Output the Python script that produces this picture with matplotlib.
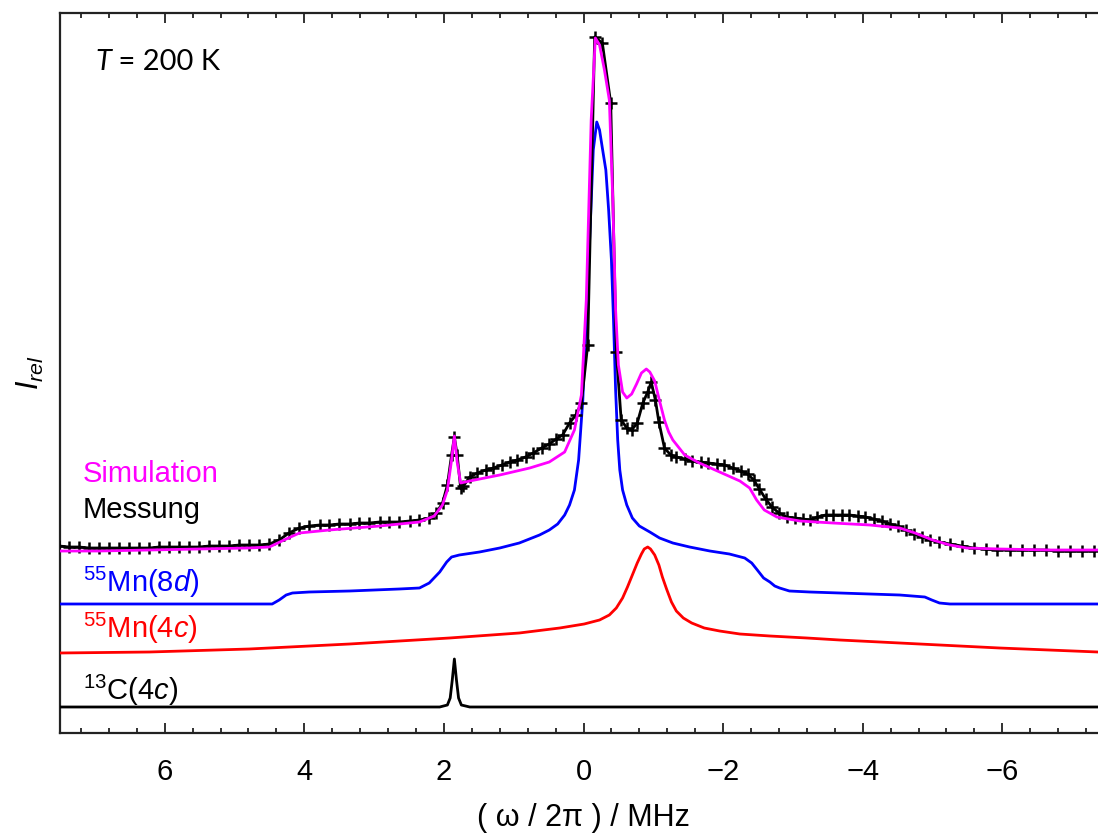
import matplotlib
matplotlib.use("Agg")
import matplotlib.pyplot as plt
import numpy as np
from matplotlib.ticker import MultipleLocator

plt.rcParams['font.family'] = ['Liberation Sans', 'DejaVu Sans']
plt.rcParams['mathtext.fontset'] = 'custom'
plt.rcParams['mathtext.rm'] = 'Liberation Sans'
plt.rcParams['mathtext.it'] = 'Liberation Sans:italic'
plt.rcParams['mathtext.bf'] = 'Liberation Sans:bold'

# ---- spectra: frequency (MHz) and intensity above each trace's baseline ----
meas_f = [7.51, 7.37, 7.23, 7.08, 6.94, 6.80, 6.65, 6.51, 6.37, 6.22, 6.08, 5.94,
          5.79, 5.65, 5.51, 5.36, 5.22, 5.08, 4.93, 4.79, 4.65, 4.50, 4.36, 4.22,
          4.07, 3.93, 3.78, 3.64, 3.50, 3.35, 3.21, 3.07, 2.92, 2.78, 2.64, 2.49,
          2.35, 2.21, 2.11, 2.02, 1.95, 1.89, 1.85, 1.81, 1.76, 1.72, 1.63, 1.52,
          1.40, 1.29, 1.17, 1.06, 0.95, 0.83, 0.72, 0.60, 0.49, 0.39, 0.30, 0.20,
          0.11, 0.03, -0.06, -0.16, -0.27, -0.39, -0.47, -0.54, -0.62, -0.69,
          -0.77, -0.85, -0.92, -0.97, -1.03, -1.08, -1.16, -1.25, -1.33, -1.45,
          -1.56, -1.68, -1.79, -1.91, -2.02, -2.14, -2.25, -2.35, -2.44, -2.52,
          -2.61, -2.70, -2.80, -2.91, -3.03, -3.14, -3.25, -3.35, -3.47, -3.58,
          -3.70, -3.81, -3.93, -4.04, -4.16, -4.27, -4.39, -4.50, -4.62, -4.73,
          -4.85, -4.96, -5.10, -5.25, -5.42, -5.59, -5.76, -5.93, -6.11, -6.28,
          -6.45, -6.62, -6.80, -6.97, -7.14, -7.31]
meas_i = [5, 4, 4, 3, 3, 3, 3, 3, 3, 3, 4, 4,
          4, 4, 4, 5, 5, 5, 6, 6, 6, 7, 11, 18,
          23, 25, 26, 26, 27, 27, 28, 28, 29, 29, 29, 30,
          31, 33, 38, 48, 66, 96, 114, 96, 63, 65, 74, 78,
          81, 83, 86, 89, 91, 94, 98, 103, 107, 112, 116, 128,
          136, 148, 206, 514, 508, 448, 199, 131, 123, 121,
          128, 148, 159, 169, 151, 129, 103, 96, 94, 92,
          90, 89, 88, 87, 86, 83, 80, 77, 71, 62,
          52, 44, 38, 34, 33, 32, 31, 34, 36, 36,
          36, 36, 35, 34, 32, 30, 27, 25, 21, 17,
          14, 11, 9, 7, 5, 3, 2, 1, 1, 1,
          1, 1, 0, 0, 0, 0]

sim_f = [7.51, 6.94, 6.22, 5.51, 4.79, 4.50, 4.29, 4.07, 3.64, 2.92, 2.35, 2.14,
         2.02, 1.95, 1.89, 1.85, 1.81, 1.76, 1.63, 1.20, 0.77, 0.49, 0.27, 0.13,
         0.03, -0.04, -0.11, -0.17, -0.23, -0.30, -0.37, -0.42, -0.46, -0.50,
         -0.56, -0.62, -0.69, -0.76, -0.83, -0.90, -0.95, -1.02, -1.09, -1.16,
         -1.22, -1.28, -1.45, -1.66, -1.95, -2.24, -2.38, -2.48, -2.59, -2.77,
         -3.10, -3.57, -4.10, -4.53, -4.75, -5.00, -5.25, -5.49, -5.96, -6.68,
         -7.37]
sim_i = [0, 0, 1, 2, 3, 4, 11, 18, 21, 25, 29, 35,
         46, 61, 91, 115, 89, 68, 70, 76, 83, 89, 99, 121,
         156, 251, 431, 513, 506, 481, 451, 351, 241, 186,
         159, 153, 157, 167, 178, 182, 179, 170, 150, 131,
         119, 111, 96, 88, 79, 70, 63, 51, 41, 34,
         30, 28, 26, 23, 18, 11, 6, 3, 2, 1,
         1]

mn8d_f = [7.51, 4.46, 4.36, 4.26, 4.17, 3.93, 3.35, 2.64, 2.35, 2.21, 2.06, 1.96,
          1.89, 1.78, 1.49, 1.20, 0.92, 0.63, 0.49, 0.37, 0.27, 0.20, 0.13, 0.07,
          0.01, -0.04, -0.10, -0.14, -0.19, -0.23, -0.27, -0.32, -0.36, -0.40,
          -0.43, -0.46, -0.49, -0.52, -0.56, -0.62, -0.70, -0.80, -0.95, -1.09,
          -1.28, -1.52, -1.81, -2.09, -2.31, -2.41, -2.49, -2.58, -2.67, -2.74,
          -2.81, -2.95, -3.24, -3.67, -4.10, -4.53, -4.89, -4.99, -5.10, -5.25,
          -7.37]
mn8d_i = [0, 0, 4, 9, 11, 12, 13, 15, 16, 21, 32, 42,
          47, 49, 52, 56, 61, 69, 74, 80, 89, 99, 114, 144,
          204, 284, 384, 454, 482, 474, 456, 434, 394, 344,
          284, 214, 164, 134, 114, 99, 86, 78, 72, 66,
          61, 57, 53, 50, 46, 41, 34, 26, 22, 18,
          16, 13, 12, 11, 10, 9, 7, 4, 1, 0,
          0]

mn4c_f = [7.51, 6.22, 4.79, 3.35, 1.92, 0.92, 0.34, -0.01, -0.23, -0.37, -0.47,
          -0.56, -0.63, -0.70, -0.77, -0.83, -0.87, -0.92, -0.96, -1.02, -1.08,
          -1.13, -1.19, -1.26, -1.33, -1.43, -1.55, -1.73, -1.95, -2.24, -2.67,
          -3.20, -3.67, -4.53, -5.96, -7.37]
mn4c_i = [0, 1, 4, 9, 15, 20, 25, 29, 33, 38, 45,
          55, 66, 78, 90, 99, 104, 106, 104, 98, 88,
          76, 64, 51, 42, 35, 30, 25, 22, 19, 17,
          15, 13, 10, 5, 1]

c13_f = [7.51, 2.06, 1.95, 1.91, 1.88, 1.85, 1.82, 1.79, 1.75, 1.63, -7.37]
c13_i = [0, 0, 2, 9, 27, 48, 27, 9, 2, 0, 0]

# vertical offsets of the stacked traces
off_exp = 182
off_8d = 129
off_4c = 80
off_c = 26

W, H = 1098, 833
fig = plt.figure(figsize=(W / 100, H / 100), dpi=100)
ax = fig.add_axes([60 / W, 100 / H, 1047 / W, 720 / H])

lw = 2.0
ax.plot(c13_f, np.array(c13_i) + off_c, color='black', lw=lw, zorder=3)
ax.plot(mn4c_f, np.array(mn4c_i) + off_4c, color='#ff0000', lw=lw, zorder=3)
ax.plot(mn8d_f, np.array(mn8d_i) + off_8d, color='#0000ff', lw=lw, zorder=3)
ax.plot(meas_f, np.array(meas_i) + off_exp, color='black', lw=lw, marker='+',
        ms=8, mew=1.8, zorder=4)
ax.plot(sim_f, np.array(sim_i) + off_exp, color='#ff00ff', lw=lw, zorder=5)

ax.set_xlim(7.5, -7.5)
ax.set_ylim(0, 720)

ax.xaxis.set_major_locator(MultipleLocator(2))
ax.xaxis.set_minor_locator(MultipleLocator(0.4))
ax.tick_params(axis='x', which='both', direction='in', top=True, bottom=True,
               labelsize=21, pad=18, width=1.3, color='#222222')
ax.tick_params(axis='x', which='major', length=7)
ax.tick_params(axis='x', which='minor', length=3.5)
ax.set_yticks([])
for s in ax.spines.values():
    s.set_linewidth(1.6)
    s.set_color('#222222')

ax.set_xlabel('( ω / 2π ) / MHz', fontsize=22, labelpad=12)
ax.set_ylabel('$I_{rel}$', fontsize=22, labelpad=10)

fs = 21
tx = 23 / 1047
ax.text(tx, 0.349, 'Simulation', color='#ff00ff', fontsize=fs, transform=ax.transAxes, va='baseline')
ax.text(tx, 0.299, 'Messung', color='black', fontsize=fs, transform=ax.transAxes, va='baseline')
ax.text(tx, 0.196, r'$^{55}$Mn(8$\mathit{d}$)', color='#0000ff', fontsize=fs, transform=ax.transAxes, va='baseline')
ax.text(tx, 0.132, r'$^{55}$Mn(4$\mathit{c}$)', color='#ff0000', fontsize=fs, transform=ax.transAxes, va='baseline')
ax.text(tx, 0.046, r'$^{13}$C(4$\mathit{c}$)', color='black', fontsize=fs, transform=ax.transAxes, va='baseline')

t1 = ax.text(35 / 1047, 0.921, 'T', fontsize=21, family='Lato', style='italic',
             transform=ax.transAxes, va='baseline')
ax.annotate(' = 200 K', xy=(1, 0), xycoords=t1, fontsize=21, family='Lato',
            va='bottom', ha='left')

fig.savefig('out.png', dpi=100)
